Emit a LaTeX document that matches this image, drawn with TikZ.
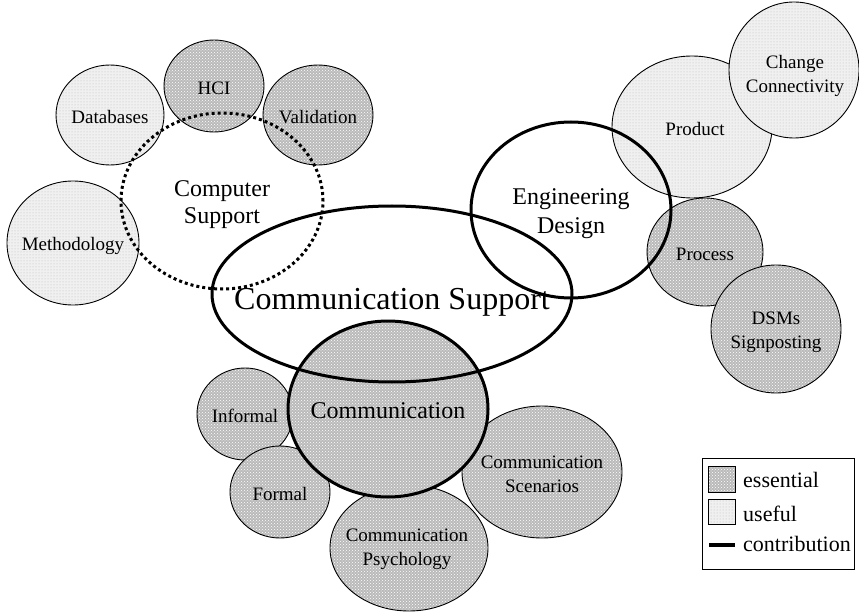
\documentclass[tikz,border=0pt]{standalone}
\usepackage{fontspec}
\setmainfont{Liberation Serif}
\usetikzlibrary{shapes.geometric,patterns}
\begin{document}
\begin{tikzpicture}[x=1pt,y=-1pt,
  blob/.style={ellipse, inner sep=0pt, line width=0.9pt, draw=black},
  essential/.style={blob, preaction={fill=black!27}, pattern=crosshatch dots, pattern color=white},
  useful/.style={blob, preaction={fill=black!6}, pattern=dots, pattern color=black!28},
  contrib/.style={ellipse, inner sep=0pt, line width=3pt, draw=black},
  dotring/.style={ellipse, inner sep=0pt, line width=3pt, draw=black, dash pattern=on 3pt off 3pt},
  sz/.style 2 args={minimum width=#1pt, minimum height=#2pt},
  small/.style={font=\fontsize{19}{24}\selectfont, align=center, inner sep=0pt},
  mid/.style={font=\fontsize{24}{27}\selectfont, align=center, inner sep=0pt},
  huge/.style={font=\fontsize{32}{36}\selectfont, inner sep=0pt},
  legtext/.style={font=\fontsize{22}{24}\selectfont, anchor=base west, inner sep=0pt},
  ]
\useasboundingbox (0,0) rectangle (859,612);

% useful / essential satellites (upper left)
\node[useful, sz={108}{100}] (db) at (110,115) {};
\node[essential, sz={100}{92}] (hci) at (214,86) {};
\node[essential, sz={110}{100}] (val) at (318,115) {};
\node[useful, sz={132}{124}] (meth) at (73,243) {};

% upper right
\node[useful, sz={160}{142}] (prod) at (692,127) {};
\node[useful, sz={130}{136}] (chg) at (794,70) {};
\node[essential, sz={116}{108}] (proc) at (705,252) {};
\node[essential, sz={130}{128}] (dsm) at (776,329) {};

% bottom
\node[essential, sz={96}{92}] (inf) at (245,414) {};
\node[essential, sz={100}{92}] (form) at (280,492) {};
\node[essential, sz={158}{126}] (psy) at (409,548) {};
\node[essential, sz={160}{132}] (scen) at (542,472) {};
\node[essential, line width=3pt, sz={200}{176}] (comm) at (388,409) {};

% contribution rings
\node[dotring, sz={202}{176}] (cs) at (222,201) {};
\node[contrib, sz={200}{176}] (eng) at (571,210) {};
\node[contrib, sz={360}{176}] (comsup) at (392,294) {};

% labels
\node[small] (tdb) at (110,117) {Databases};
\node[small] (thci) at (214,88) {HCI};
\node[small] (tval) at (318,117) {Validation};
\node[small] (tmeth) at (73,246) {Methodology};
\node[small] (tprod) at (695,129) {Product};
\node[small] (tchg) at (795,76) {Change\\Connectivity};
\node[small] (tproc) at (705,254) {Process};
\node[small] (tdsm) at (776,332) {DSMs\\Signposting};
\node[small] (tinf) at (245,416) {Informal};
\node[small] (tform) at (280,494) {Formal};
\node[small] (tpsy) at (407,549) {Communication\\Psychology};
\node[small] (tscen) at (542,474) {Communication\\Scenarios};
\node[mid] (tcs) at (222,205) {Computer\\Support};
\node[mid, font=\fontsize{24}{29}\selectfont] (teng) at (571,214) {Engineering\\Design};
\node[mid] (tcomm) at (388,411) {Communication};
\node[huge] (tcomsup) at (392,302) {Communication Support};

% legend
\node[draw=black, line width=1.1pt, minimum width=152pt, minimum height=111pt, inner sep=0pt, anchor=north west] (leg) at (702,458) {};
\node[essential, rectangle, minimum width=27pt, minimum height=26pt, anchor=north west] (kess) at (708,466) {};
\node[useful, rectangle, minimum width=27pt, minimum height=25pt, anchor=north west] (kuse) at (708,499) {};
\coordinate (kc1) at (709,545);
\coordinate (kc2) at (735,545);
\draw[line width=3.5pt] (kc1) -- (kc2);
\node[legtext] (tess) at (743,487) {essential};
\node[legtext] (tuse) at (743,521) {useful};
\node[legtext] (tcon) at (743,551) {contribution};
\end{tikzpicture}
\end{document}
